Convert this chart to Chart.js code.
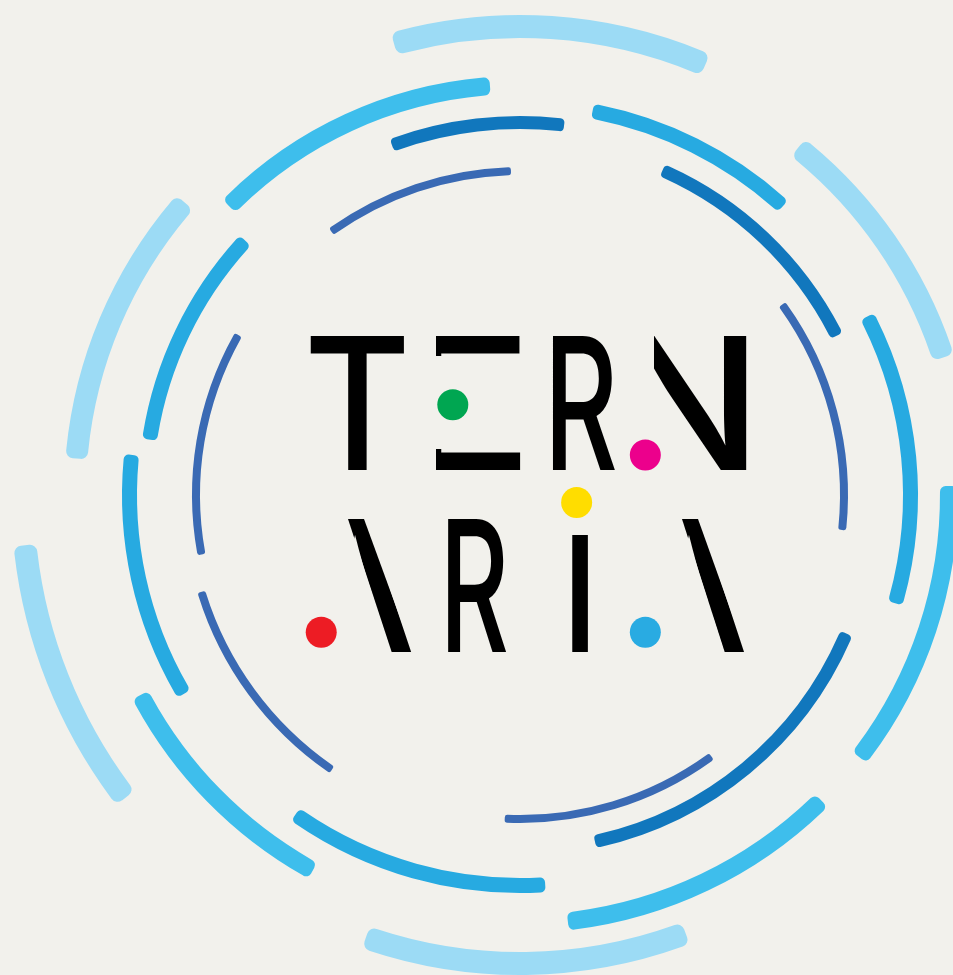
<!DOCTYPE html>
<html>
<head>
<meta charset="utf-8">
<title>TERN ARIA</title>
<script src="https://cdn.jsdelivr.net/npm/chart.js@4.4.1/dist/chart.umd.min.js"></script>
<style>
  html, body { margin: 0; padding: 0; background: #f2f1ec; }
  #stage { position: relative; width: 953px; height: 975px; overflow: hidden; background: #f2f1ec; }
  .ring { position: absolute; left: 0; top: -25px; }
  #dots, #word { position: absolute; left: 0; top: 0; }
</style>
</head>
<body>
<div id="stage">
  <canvas id="ringA" class="ring" width="1040" height="1040"></canvas>
  <canvas id="ringB" class="ring" width="1040" height="1040"></canvas>
  <canvas id="ringC" class="ring" width="1040" height="1040"></canvas>
  <canvas id="ringD" class="ring" width="1040" height="1040"></canvas>
  <canvas id="ringE" class="ring" width="1040" height="1040"></canvas>
  <svg id="word" width="953" height="975" xmlns="http://www.w3.org/2000/svg">
    <defs>
      <clipPath id="clipE" clipPathUnits="userSpaceOnUse">
        <rect x="436" y="330" width="95" height="26"/>
        <rect x="436" y="449" width="95" height="27"/>
      </clipPath>
      <clipPath id="clipN" clipPathUnits="userSpaceOnUse">
        <rect x="654" y="330" width="110" height="146"/>
      </clipPath>
      <clipPath id="clipA1" clipPathUnits="userSpaceOnUse">
        <polygon points="348,519 364,519 413,653 392,653"/>
      </clipPath>
      <clipPath id="clipA2" clipPathUnits="userSpaceOnUse">
        <polygon points="682,519 698,519 746,653 725,653"/>
      </clipPath>
      <clipPath id="clipI" clipPathUnits="userSpaceOnUse">
        <rect x="540" y="530" width="80" height="130"/>
      </clipPath>
    </defs>
    <g id="letters"></g>
  </svg>
  <canvas id="dots" width="953" height="975"></canvas>
</div>
<script>
// arc spans in degrees, clockwise from 12 o'clock, around the common centre
const ringAOuter = [[232.5, 264.2]];
const ringAMid = [[344.4, 23.3], [159.3, 199.2]];
const ringAInner = [[38.7, 72.0], [274.7, 311.1]];
const ringBOuter = [[88.8, 127.7], [135.4, 173.6], [208.9, 242.2]];
const ringBInner = [[314.8, 355.8]];
const ringCOuter = [[10.7, 42.3], [62.8, 106.1], [176.3, 215.1], [239.4, 275.9]];
const ringCInner = [[278.5, 312.8]];
const ringDOuter = [[339.9, 6.8]];
const ringDInner = [[23.7, 63.3], [113.0, 167.8]];
const ringEOuter = [[214.4, 253.1]];
const ringEInner = [[324.4, 358.4], [54.0, 96.2], [143.8, 182.7], [259.4, 299.6]];

// coloured dots of the lettering
const dotX = [452, 651, 580, 316, 651];
const dotY = [402, 454, 503, 637, 637];
const dotColors = ['#00a651', '#ec008c', '#ffdd00', '#ed1c24', '#29abe2'];

const FULL = 520; // canvas half size = outer radius of every ring chart
const CLEAR = 'rgba(0,0,0,0)';

function segments(arcs) {
  const sorted = arcs
    .map(([s, e]) => [s, e < s ? e + 360 : e])
    .sort((a, b) => a[0] - b[0]);
  const start = sorted[0][0];
  const data = [];
  const isArc = [];
  let pos = start;
  sorted.forEach(([s, e]) => {
    if (s > pos) { data.push(s - pos); isArc.push(false); }
    data.push(e - s); isArc.push(true);
    pos = e;
  });
  if (start + 360 > pos) { data.push(start + 360 - pos); isArc.push(false); }
  return { rotation: start, data, isArc };
}

function spacer(width) {
  return {
    data: [1], weight: width, backgroundColor: CLEAR,
    borderWidth: 0, hoverBorderWidth: 0, hoverOffset: 0, offset: 0,
  };
}

function ringChart(id, color, rings) {
  const datasets = [];
  let edge = FULL;
  rings.forEach(ring => {
    if (edge > ring.outer) datasets.push(spacer(edge - ring.outer));
    const seg = segments(ring.arcs);
    const corner = (ring.outer - ring.inner) * 0.32;
    datasets.push({
      data: seg.data,
      rotation: seg.rotation,
      weight: ring.outer - ring.inner,
      backgroundColor: seg.isArc.map(a => (a ? color : CLEAR)),
      borderRadius: seg.isArc.map(a => (a ? corner : 0)),
      borderWidth: 0, hoverBorderWidth: 0, hoverOffset: 0, offset: 0,
    });
    edge = ring.inner;
  });
  datasets.push(spacer(edge));

  new Chart(document.getElementById(id), {
    type: 'doughnut',
    data: { datasets },
    options: {
      responsive: false,
      animation: false,
      events: [],
      radius: FULL,
      cutout: 0,
      layout: { padding: 0 },
      plugins: { legend: { display: false }, tooltip: { enabled: false } },
    },
  });
}

ringChart('ringA', '#9cdbf5', [
  { arcs: ringAOuter, outer: 509, inner: 486 },
  { arcs: ringAMid, outer: 480, inner: 457 },
  { arcs: ringAInner, outer: 456, inner: 434 },
]);
ringChart('ringB', '#3ebeec', [
  { arcs: ringBOuter, outer: 438, inner: 420 },
  { arcs: ringBInner, outer: 419, inner: 401 },
]);
ringChart('ringC', '#27aae1', [
  { arcs: ringCOuter, outer: 398, inner: 383 },
  { arcs: ringCInner, outer: 382, inner: 367 },
]);
ringChart('ringD', '#1177bd', [
  { arcs: ringDOuter, outer: 379, inner: 366 },
  { arcs: ringDInner, outer: 361, inner: 348 },
]);
ringChart('ringE', '#3a6ab4', [
  { arcs: ringEOuter, outer: 337, inner: 329 },
  { arcs: ringEInner, outer: 328, inner: 320 },
]);

new Chart(document.getElementById('dots'), {
  type: 'scatter',
  data: {
    datasets: [{
      data: dotX.map((x, i) => ({ x, y: dotY[i] })),
      pointRadius: 15.5,
      pointBackgroundColor: dotColors,
      pointBorderWidth: 0,
      showLine: false,
    }],
  },
  options: {
    responsive: false,
    animation: false,
    events: [],
    layout: { padding: 0 },
    scales: {
      x: { type: 'linear', min: 0, max: 953, display: false },
      y: { type: 'linear', min: 0, max: 975, reverse: true, display: false },
    },
    plugins: { legend: { display: false }, tooltip: { enabled: false } },
  },
});

// lettering: each glyph is stretched onto the box its ink covers in the logo
const WEIGHT = '500';
const letters = [
  { ch: 'T', box: [310, 336, 404, 470] },
  { ch: 'E', box: [416, 336, 522, 470], clip: 'clipE' },
  { ch: 'R', box: [553, 336, 616, 470] },
  { ch: 'N', box: [629, 336, 747, 470], clip: 'clipN' },
  { ch: 'A', box: [299, 519, 412, 652], clip: 'clipA1' },
  { ch: 'R', box: [448, 519, 507, 652] },
  { ch: 'i', box: [572, 534, 588, 652], clip: 'clipI', measure: '\u0131' },
  { ch: 'A', box: [634, 519, 745, 652], clip: 'clipA2' },
];

const ctx = document.createElement('canvas').getContext('2d');
ctx.font = `${WEIGHT} 100px Inter`;
const svgNS = 'http://www.w3.org/2000/svg';
const group = document.getElementById('letters');
letters.forEach(l => {
  const m = ctx.measureText(l.measure || l.ch);
  const left = -m.actualBoundingBoxLeft;
  const right = m.actualBoundingBoxRight;
  const top = -m.actualBoundingBoxAscent;
  const bottom = m.actualBoundingBoxDescent;
  const [x0, y0, x1, y1] = l.box;
  const sx = (x1 - x0) / (right - left);
  const sy = (y1 - y0) / (bottom - top);
  const g = document.createElementNS(svgNS, 'g');
  if (l.clip) g.setAttribute('clip-path', `url(#${l.clip})`);
  const t = document.createElementNS(svgNS, 'text');
  t.setAttribute('x', 0);
  t.setAttribute('y', 0);
  t.setAttribute('font-family', 'Inter');
  t.setAttribute('font-weight', WEIGHT);
  t.setAttribute('font-size', '100');
  t.setAttribute('fill', '#000');
  t.setAttribute('transform', `translate(${x0 - left * sx} ${y0 - top * sy}) scale(${sx} ${sy})`);
  t.textContent = l.ch;
  g.appendChild(t);
  group.appendChild(g);
});
</script>
</body>
</html>
